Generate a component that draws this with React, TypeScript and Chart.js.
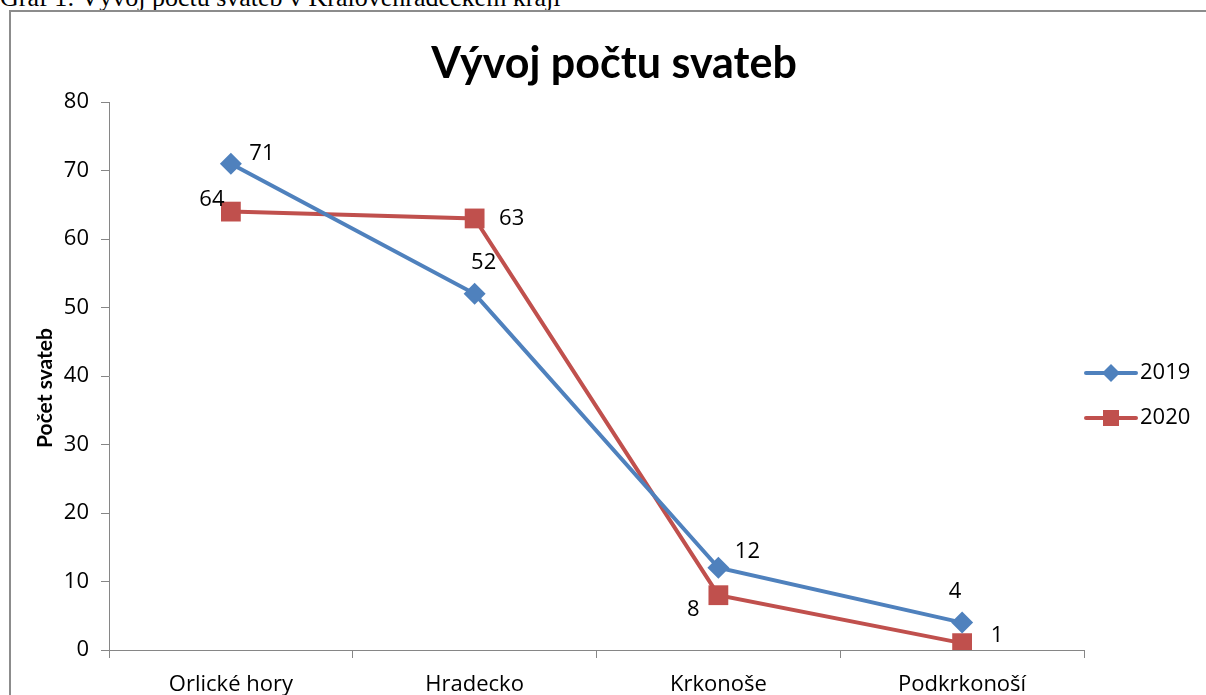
import React, { useEffect, useRef } from "react";
import { Chart, registerables } from "chart.js";

Chart.register(...registerables);

const categories = ["Orlické hory", "Hradecko", "Krkonoše", "Podkrkonoší"];
const series2019 = [71, 52, 12, 4];
const series2020 = [64, 63, 8, 1];
const seriesNames = ["2019", "2020"];
const yMin = 0;
const yMax = 80;
const yStep = 10;

const chartTitle = "Vývoj počtu svateb";
const yAxisTitle = "Počet svateb";
const caption = "Graf 1: Vývoj počtu svateb v Královéhradeckém kraji";

// label offsets (layout only): [dx, dy] of label centre from its point
const labelOffsets = [
  [[31, -10], [9, -31], [29, -16], [-7, -31]],
  [[-19, -12], [37, 0], [-25, 15], [35, -7]],
];

const BLUE = "#4F81BD";
const RED = "#C0504D";
const FONT = "'Open Sans', Lato, sans-serif";
const TITLE_FONT = "Lato, 'Open Sans', sans-serif";
const AXIS = "#868686";
const FS = 22;

const overlayPlugin = {
  id: "overlay",
  afterDatasetsDraw(chart: any) {
    const ctx = chart.ctx;
    ctx.save();
    // data labels
    ctx.fillStyle = "#000";
    ctx.font = `${FS}px ${FONT}`;
    ctx.textAlign = "center";
    ctx.textBaseline = "middle";
    chart.data.datasets.forEach((ds: any, di: number) => {
      const meta = chart.getDatasetMeta(di);
      meta.data.forEach((pt: any, i: number) => {
        const off = labelOffsets[di][i];
        ctx.fillText(String(ds.data[i]), pt.x + off[0], pt.y + off[1]);
      });
    });
    // title
    ctx.font = `bold 43px ${TITLE_FONT}`;
    ctx.textBaseline = "alphabetic";
    ctx.fillText(chartTitle, 614, 78);
    // y axis title
    ctx.save();
    ctx.translate(45, 388);
    ctx.rotate(-Math.PI / 2);
    ctx.font = `bold 21px ${TITLE_FONT}`;
    ctx.textBaseline = "middle";
    ctx.fillText(yAxisTitle, 0, 0);
    ctx.restore();
    // legend
    const legendY = [373, 418];
    chart.data.datasets.forEach((ds: any, di: number) => {
      const y = legendY[di];
      ctx.strokeStyle = ds.borderColor;
      ctx.lineWidth = 4;
      ctx.lineCap = "round";
      ctx.beginPath();
      ctx.moveTo(1086, y);
      ctx.lineTo(1136, y);
      ctx.stroke();
      ctx.fillStyle = ds.pointBackgroundColor;
      ctx.beginPath();
      if (ds.pointStyle === "rectRot") {
        ctx.moveTo(1111 - 9, y);
        ctx.lineTo(1111, y - 9);
        ctx.lineTo(1111 + 9, y);
        ctx.lineTo(1111, y + 9);
        ctx.closePath();
      } else {
        ctx.rect(1111 - 8, y - 8, 16, 16);
      }
      ctx.fill();
      ctx.fillStyle = "#000";
      ctx.font = `${FS}px ${FONT}`;
      ctx.textAlign = "left";
      ctx.textBaseline = "middle";
      ctx.fillText(ds.label, 1140, y);
    });
    ctx.restore();
  },
};

export default function App() {
  const ref = useRef<HTMLCanvasElement>(null);
  useEffect(() => {
    if (!ref.current) return;
    const chart = new Chart(ref.current, {
      type: "line",
      data: {
        labels: categories,
        datasets: [
          {
            label: seriesNames[0],
            data: series2019,
            borderColor: BLUE,
            backgroundColor: BLUE,
            pointBackgroundColor: BLUE,
            pointBorderColor: BLUE,
            pointStyle: "rectRot",
            pointRadius: 11,
            pointBorderWidth: 0,
            borderWidth: 4,
            tension: 0,
          },
          {
            label: seriesNames[1],
            data: series2020,
            borderColor: RED,
            backgroundColor: RED,
            pointBackgroundColor: RED,
            pointBorderColor: RED,
            pointStyle: "rect",
            pointRadius: 14,
            pointBorderWidth: 0,
            borderWidth: 4,
            tension: 0,
          },
        ],
      },
      options: {
        animation: false,
        responsive: false,
        layout: { padding: { left: 0, top: 102, right: 122, bottom: 0 } },
        plugins: {
          legend: { display: false },
          title: { display: false },
          tooltip: { enabled: false },
        },
        scales: {
          x: {
            offset: true,
            grid: {
              offset: true,
              drawOnChartArea: false,
              drawTicks: true,
              tickLength: 8,
              color: AXIS,
            },
            border: { display: true, color: AXIS, width: 1 },
            ticks: {
              color: "#000",
              font: { family: FONT, size: FS },
              padding: 14,
              maxRotation: 0,
            },
            afterFit(scale: any) {
              scale.height = 45;
            },
          },
          y: {
            min: yMin,
            max: yMax,
            grid: {
              drawOnChartArea: false,
              drawTicks: true,
              tickLength: 8,
              color: AXIS,
            },
            border: { display: true, color: AXIS, width: 1 },
            ticks: {
              stepSize: yStep,
              color: "#000",
              font: { family: FONT, size: FS },
              padding: 12,
            },
            afterFit(scale: any) {
              scale.width = 109;
            },
          },
        },
      },
      plugins: [overlayPlugin],
    });
    return () => chart.destroy();
  }, []);

  return (
    <div
      style={{
        position: "fixed",
        left: 0,
        top: 0,
        width: 1206,
        height: 695,
        overflow: "hidden",
        background: "#fff",
      }}
    >
      <div
        style={{
          position: "absolute",
          left: 0,
          top: -15,
          fontFamily: "'Liberation Serif', 'Times New Roman', serif",
          fontSize: 26,
          lineHeight: "26px",
          whiteSpace: "nowrap",
          color: "#000",
        }}
      >
        {caption}
      </div>
      <div
        style={{
          position: "absolute",
          left: 9,
          top: 10,
          width: 1300,
          height: 800,
          border: "2px solid #8c8c8c",
        }}
      />
      <canvas
        ref={ref}
        width={1206}
        height={695}
        style={{ position: "absolute", left: 0, top: 0 }}
      />
    </div>
  );
}
